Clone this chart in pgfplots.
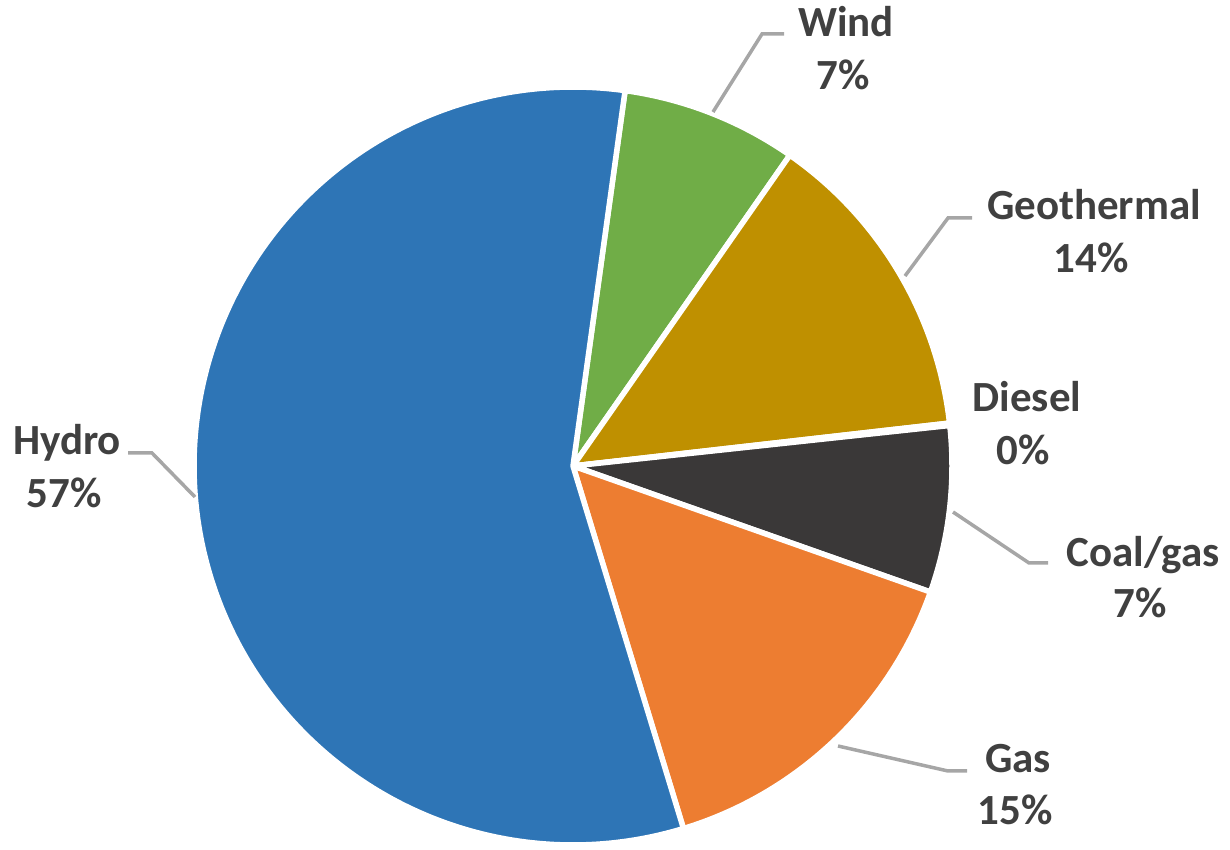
\documentclass[border=0pt]{standalone}
\usepackage{pgfplots}
\pgfplotsset{compat=1.18}
\usepackage{fontspec}
\setmainfont{Carlito}
\definecolor{cHydro}{HTML}{2E75B6}
\definecolor{cWind}{HTML}{70AD47}
\definecolor{cGeo}{HTML}{BF9000}
\definecolor{cDiesel}{HTML}{A5A5A5}
\definecolor{cCoal}{HTML}{3A3838}
\definecolor{cGas}{HTML}{ED7D31}
\definecolor{lbl}{HTML}{404040}
\definecolor{lead}{HTML}{A6A6A6}
% shares in percent
\def\vWind{7.5}
\def\vGeo{13.5}
\def\vDiesel{0.1}
\def\vCoal{7.1}
\def\vGas{14.9}
\def\vHydro{56.9}
\def\startangle{82.1}
\pgfmathsetmacro\aA{\startangle}
\pgfmathsetmacro\aB{\aA-3.6*\vWind}
\pgfmathsetmacro\aC{\aB-3.6*\vGeo}
\pgfmathsetmacro\aD{\aC-3.6*\vDiesel}
\pgfmathsetmacro\aE{\aD-3.6*\vCoal}
\pgfmathsetmacro\aF{\aE-3.6*\vGas}
\pgfmathsetmacro\aG{\aF-3.6*\vHydro}
\def\cx{573}
\def\cy{384}
\def\R{379}
\begin{document}
\begin{tikzpicture}
\begin{axis}[
  width=1230pt, height=850pt, scale only axis,
  xmin=0, xmax=1230, ymin=0, ymax=850,
  hide axis, clip=false,
]
\path (rel axis cs:0,0) (rel axis cs:1,1);
\pgfplotsset{slice/.style={draw=white, line width=5.5pt, line join=round, samples=120, variable=\t, mark=none}}
\addplot[slice, fill=cWind, domain=\aB:\aA] ({\cx+\R*cos(t)},{\cy+\R*sin(t)}) -- (axis cs:\cx,\cy) -- cycle;
\addplot[slice, fill=cGeo, domain=\aC:\aB] ({\cx+\R*cos(t)},{\cy+\R*sin(t)}) -- (axis cs:\cx,\cy) -- cycle;
\addplot[slice, fill=cDiesel, domain=\aD:\aC, samples=3] ({\cx+\R*cos(t)},{\cy+\R*sin(t)}) -- (axis cs:\cx,\cy) -- cycle;
\addplot[slice, fill=cCoal, domain=\aE:\aD] ({\cx+\R*cos(t)},{\cy+\R*sin(t)}) -- (axis cs:\cx,\cy) -- cycle;
\addplot[slice, fill=cGas, domain=\aF:\aE] ({\cx+\R*cos(t)},{\cy+\R*sin(t)}) -- (axis cs:\cx,\cy) -- cycle;
\addplot[slice, fill=cHydro, domain=\aG:\aF, samples=300] ({\cx+\R*cos(t)},{\cy+\R*sin(t)}) -- (axis cs:\cx,\cy) -- cycle;
% leader lines
\addplot[lead, line width=3.5pt, mark=none] coordinates {(713,738) (762,816) (784,816)};
\addplot[lead, line width=3.5pt, mark=none] coordinates {(905,574) (948,632) (972,632)};
\addplot[lead, line width=3.5pt, mark=none] coordinates {(953,338) (1029,287) (1048,287)};
\addplot[lead, line width=3.5pt, mark=none] coordinates {(838,104) (948,79) (967,79)};
\addplot[lead, line width=3.5pt, mark=none] coordinates {(195,353) (152,397) (128,397)};
% labels
\tikzset{lab/.style={anchor=base, text=lbl, font=\fontsize{43}{51}\selectfont\bfseries, inner sep=0pt}}
\node[lab] at (axis cs:846,813) {Wind};
\node[lab] at (axis cs:843,760) {7\%};
\node[lab] at (axis cs:1094,630) {Geothermal};
\node[lab] at (axis cs:1091,577) {14\%};
\node[lab] at (axis cs:1027,438) {Diesel};
\node[lab] at (axis cs:1023,385) {0\%};
\node[lab] at (axis cs:1143,283) {Coal/gas};
\node[lab] at (axis cs:1140,232) {7\%};
\node[lab] at (axis cs:1018,77) {Gas};
\node[lab] at (axis cs:1015,25) {15\%};
\node[lab] at (axis cs:67,395) {Hydro};
\node[lab] at (axis cs:64,342) {57\%};
\end{axis}
\end{tikzpicture}
\end{document}
